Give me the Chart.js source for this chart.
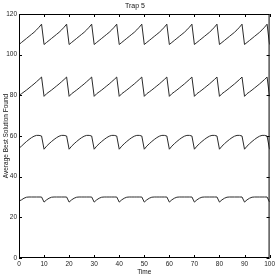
<!DOCTYPE html>
<html>
<head>
<meta charset="utf-8">
<script src="https://cdn.jsdelivr.net/npm/chart.js@4"></script>
<style>
  html, body { margin: 0; padding: 0; background: #fff; }
  #wrap { width: 277px; height: 277px; }
</style>
</head>
<body>
<div id="wrap"><canvas id="myChart"></canvas></div>
<script>
var time = [];
for (var t = 0; t <= 100; t++) time.push(t);

var series1 = [
  105, 106, 107, 108, 109, 110, 111, 112.2, 113.5, 115,
  105, 106, 107, 108, 109, 110, 111, 112.2, 113.5, 115,
  105, 106, 107, 108, 109, 110, 111, 112.2, 113.5, 115,
  105, 106, 107, 108, 109, 110, 111, 112.2, 113.5, 115,
  105, 106, 107, 108, 109, 110, 111, 112.2, 113.5, 115,
  105, 106, 107, 108, 109, 110, 111, 112.2, 113.5, 115,
  105, 106, 107, 108, 109, 110, 111, 112.2, 113.5, 115,
  105, 106, 107, 108, 109, 110, 111, 112.2, 113.5, 115,
  105, 106, 107, 108, 109, 110, 111, 112.2, 113.5, 115,
  105, 106, 107, 108, 109, 110, 111, 112.2, 113.5, 115,
  105,
];
var series2 = [
  80, 80.8, 81.7, 82.6, 83.6, 84.6, 85.6, 86.7, 87.8, 89,
  79.5, 80.8, 81.7, 82.6, 83.6, 84.6, 85.6, 86.7, 87.8, 89,
  79.5, 80.8, 81.7, 82.6, 83.6, 84.6, 85.6, 86.7, 87.8, 89,
  79.5, 80.8, 81.7, 82.6, 83.6, 84.6, 85.6, 86.7, 87.8, 89,
  79.5, 80.8, 81.7, 82.6, 83.6, 84.6, 85.6, 86.7, 87.8, 89,
  79.5, 80.8, 81.7, 82.6, 83.6, 84.6, 85.6, 86.7, 87.8, 89,
  79.5, 80.8, 81.7, 82.6, 83.6, 84.6, 85.6, 86.7, 87.8, 89,
  79.5, 80.8, 81.7, 82.6, 83.6, 84.6, 85.6, 86.7, 87.8, 89,
  79.5, 80.8, 81.7, 82.6, 83.6, 84.6, 85.6, 86.7, 87.8, 89,
  79.5, 80.8, 81.7, 82.6, 83.6, 84.6, 85.6, 86.7, 87.8, 89,
  79.5,
];
var series3 = [
  54, 55, 56.2, 57.3, 58.3, 59.2, 59.9, 60.3, 60.3, 60,
  53.5, 55, 56.2, 57.3, 58.3, 59.2, 59.9, 60.3, 60.3, 60,
  53.5, 55, 56.2, 57.3, 58.3, 59.2, 59.9, 60.3, 60.3, 60,
  53.5, 55, 56.2, 57.3, 58.3, 59.2, 59.9, 60.3, 60.3, 60,
  53.5, 55, 56.2, 57.3, 58.3, 59.2, 59.9, 60.3, 60.3, 60,
  53.5, 55, 56.2, 57.3, 58.3, 59.2, 59.9, 60.3, 60.3, 60,
  53.5, 55, 56.2, 57.3, 58.3, 59.2, 59.9, 60.3, 60.3, 60,
  53.5, 55, 56.2, 57.3, 58.3, 59.2, 59.9, 60.3, 60.3, 60,
  53.5, 55, 56.2, 57.3, 58.3, 59.2, 59.9, 60.3, 60.3, 60,
  53.5, 55, 56.2, 57.3, 58.3, 59.2, 59.9, 60.3, 60.3, 60,
  53.5,
];
var series4 = [
  28, 28.6, 29.4, 29.9, 30, 30, 30, 30, 30, 30,
  27.5, 28.6, 29.4, 29.9, 30, 30, 30, 30, 30, 30,
  27.5, 28.6, 29.4, 29.9, 30, 30, 30, 30, 30, 30,
  27.5, 28.6, 29.4, 29.9, 30, 30, 30, 30, 30, 30,
  27.5, 28.6, 29.4, 29.9, 30, 30, 30, 30, 30, 30,
  27.5, 28.6, 29.4, 29.9, 30, 30, 30, 30, 30, 30,
  27.5, 28.6, 29.4, 29.9, 30, 30, 30, 30, 30, 30,
  27.5, 28.6, 29.4, 29.9, 30, 30, 30, 30, 30, 30,
  27.5, 28.6, 29.4, 29.9, 30, 30, 30, 30, 30, 30,
  27.5, 28.6, 29.4, 29.9, 30, 30, 30, 30, 30, 30,
  27.5,
];

function points(values) {
  return values.map(function (v, i) {
    return { x: time[i], y: v };
  });
}

function lineSet(values) {
  return {
    data: points(values),
    borderColor: "#2a2a2a",
    borderWidth: 1,
    pointRadius: 0,
    tension: 0,
    fill: false,
  };
}

// box frame with ticks pointing inwards on all four sides
var frameTicks = {
  id: "frameTicks",
  afterDraw: function (chart) {
    var ctx = chart.ctx;
    var a = chart.chartArea;
    var xs = chart.scales.x;
    var ys = chart.scales.y;
    var len = 3;
    ctx.save();
    ctx.strokeStyle = "#000";
    ctx.lineWidth = 1;
    ctx.strokeRect(a.left + 0.5, a.top + 0.5, a.right - a.left - 1, a.bottom - a.top - 1);
    ctx.beginPath();
    xs.ticks.forEach(function (tk) {
      var px = Math.round(xs.getPixelForValue(tk.value)) + 0.5;
      ctx.moveTo(px, a.bottom);
      ctx.lineTo(px, a.bottom - len);
      ctx.moveTo(px, a.top);
      ctx.lineTo(px, a.top + len);
    });
    ys.ticks.forEach(function (tk) {
      var py = Math.round(ys.getPixelForValue(tk.value)) + 0.5;
      ctx.moveTo(a.left, py);
      ctx.lineTo(a.left + len, py);
      ctx.moveTo(a.right, py);
      ctx.lineTo(a.right - len, py);
    });
    ctx.stroke();
    ctx.restore();
  },
};

var font = { family: "Liberation Sans, Arial, sans-serif", size: 6.5 };

new Chart(document.getElementById("myChart"), {
  type: "line",
  data: {
    datasets: [lineSet(series1), lineSet(series2), lineSet(series3), lineSet(series4)],
  },
  options: {
    responsive: true,
    maintainAspectRatio: false,
    animation: false,
    layout: { padding: { left: 0, right: 7, top: 0, bottom: 0 } },
    plugins: {
      legend: { display: false },
      tooltip: { enabled: false },
      title: {
        display: true,
        text: "Trap 5",
        color: "#111",
        font: { family: font.family, size: 7, weight: "normal" },
        padding: { top: 1.5, bottom: 4.1 },
      },
    },
    scales: {
      x: {
        type: "linear",
        min: 0,
        max: 100,
        afterFit: function (scale) {
          scale.height = 19;
        },
        ticks: { stepSize: 10, color: "#222", font: font, padding: 2, maxRotation: 0 },
        grid: { display: false, drawTicks: false },
        border: { display: false },
        title: {
          display: true,
          text: "Time",
          color: "#111",
          font: font,
          padding: { top: 0, bottom: 1 },
        },
      },
      y: {
        min: 0,
        max: 120,
        afterFit: function (scale) {
          scale.width = 19;
        },
        ticks: { stepSize: 20, color: "#222", font: font, padding: 2 },
        grid: { display: false, drawTicks: false },
        border: { display: false },
        title: {
          display: true,
          text: "Average Best Solution Found",
          color: "#111",
          font: font,
          padding: { top: 2, bottom: 0 },
        },
      },
    },
  },
  plugins: [frameTicks],
});
</script>
</body>
</html>
